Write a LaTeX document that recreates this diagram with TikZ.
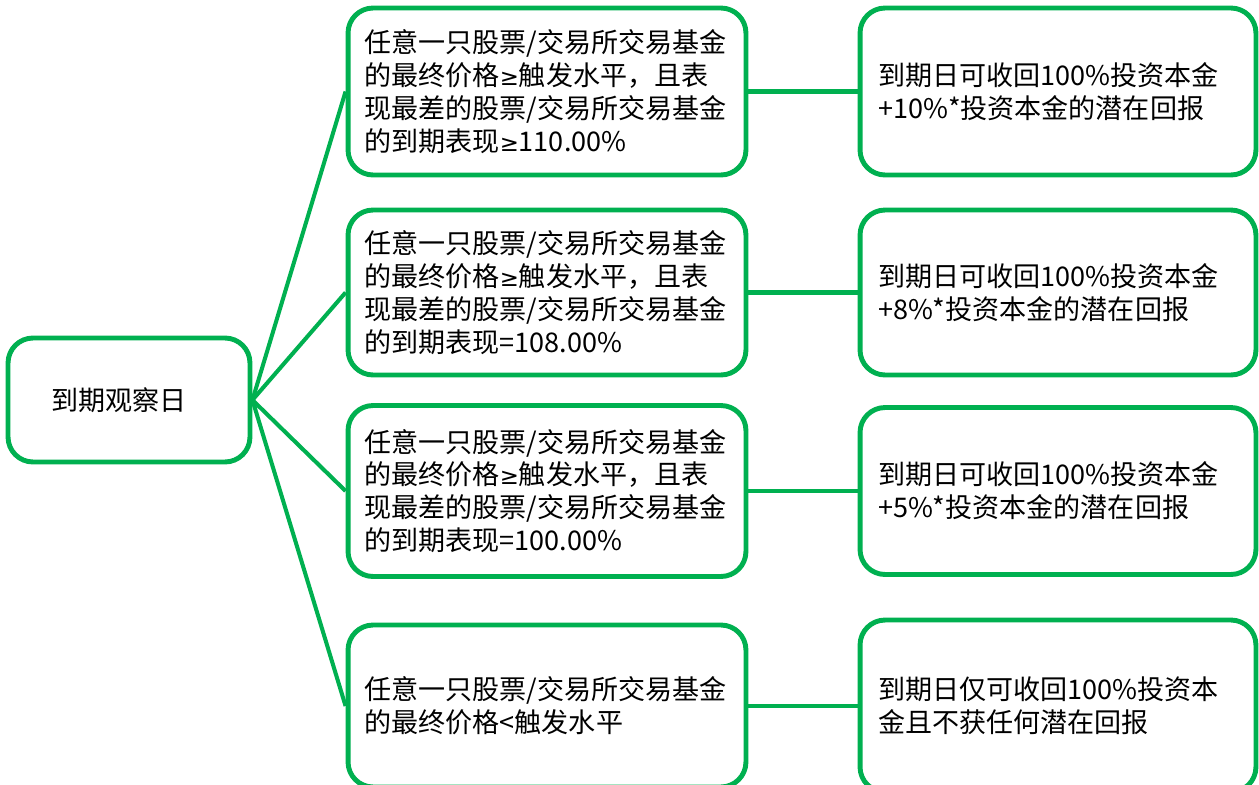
\documentclass[tikz,border=0pt]{standalone}
\usepackage{fontspec}
\setmainfont{Noto Sans CJK SC}
\newfontfamily\symfont{DejaVu Sans}
\usetikzlibrary{positioning}
\definecolor{boxgreen}{RGB}{0,176,80}
\newcommand{\atleast}{{\symfont\fontsize{13}{18.7}\selectfont ≥}}

\begin{document}
\begin{tikzpicture}[x=0.02cm,y=-0.02cm,
    box/.style={draw=boxgreen,line width=2.8pt,rounded corners=0.5cm,fill=white,
        inner sep=0pt,font=\fontsize{15.4}{18.7}\selectfont},
    condbox/.style={box,minimum width=7.96cm,text width=7.3cm,align=left},
    resbox/.style={box,minimum width=7.92cm,text width=7.2cm,align=left},
    link/.style={draw=boxgreen,line width=2.3pt}]

\useasboundingbox (0,0) rectangle (1259,785);

% Root
\node[box,minimum width=4.84cm,minimum height=2.48cm,text width=3.1cm,align=left] (root) at (129,400) {到期观察日};

% Conditions
\node[condbox,minimum height=3.34cm] (cond1) at (547,91.5)
    {任意一只股票/交易所交易基金\\的最终价格\atleast 触发水平，且表\\现最差的股票/交易所交易基金\\的到期表现\atleast 110.00\%};
\node[condbox,minimum height=3.3cm] (cond2) at (547,292.5)
    {任意一只股票/交易所交易基金\\的最终价格\atleast 触发水平，且表\\现最差的股票/交易所交易基金\\的到期表现=108.00\%};
\node[condbox,minimum height=3.42cm] (cond3) at (547,491)
    {任意一只股票/交易所交易基金\\的最终价格\atleast 触发水平，且表\\现最差的股票/交易所交易基金\\的到期表现=100.00\%};
\node[condbox,minimum height=3.24cm] (cond4) at (547,706)
    {任意一只股票/交易所交易基金\\的最终价格<触发水平};

% Results
\node[resbox,minimum height=3.34cm] (res1) at (1058,91.5)
    {到期日可收回100\%投资本金\\+10\%*投资本金的潜在回报};
\node[resbox,minimum height=3.3cm] (res2) at (1058,292.5)
    {到期日可收回100\%投资本金\\+8\%*投资本金的潜在回报};
\node[resbox,minimum height=3.34cm] (res3) at (1058,491)
    {到期日可收回100\%投资本金\\+5\%*投资本金的潜在回报};
\node[resbox,minimum height=3.44cm] (res4) at (1058,706)
    {到期日仅可收回100\%投资本\\金且不获任何潜在回报};

% Links
\draw[link] (root.east) -- (cond1.west);
\draw[link] (root.east) -- (cond2.west);
\draw[link] (root.east) -- (cond3.west);
\draw[link] (root.east) -- (cond4.west);
\draw[link] (cond1.east) -- (res1.west);
\draw[link] (cond2.east) -- (res2.west);
\draw[link] (cond3.east) -- (res3.west);
\draw[link] (cond4.east) -- (res4.west);

\end{tikzpicture}
\end{document}
